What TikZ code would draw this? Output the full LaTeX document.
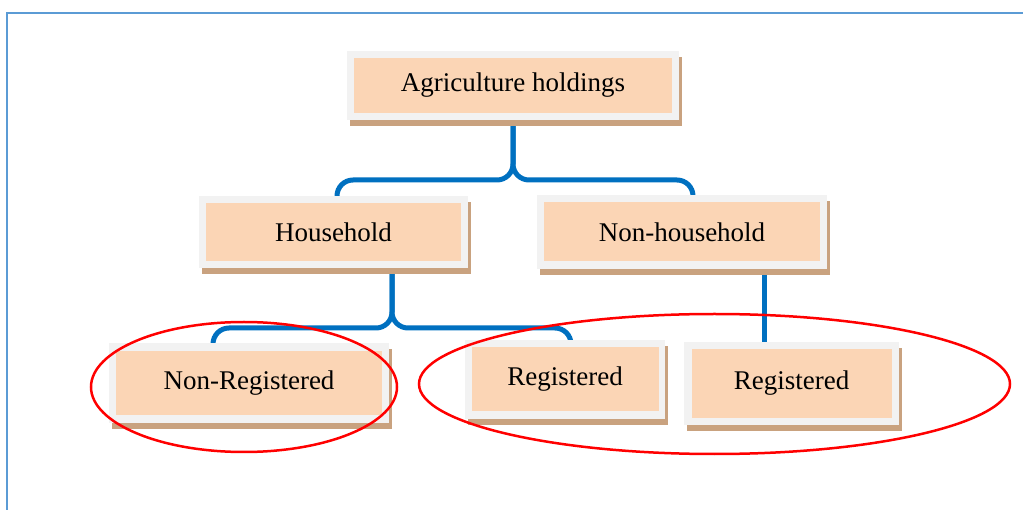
\documentclass[tikz,border=0pt]{standalone}
\usepackage{fontspec}
\setmainfont{Liberation Serif}
\usetikzlibrary{shadows,backgrounds,calc}
\definecolor{peach}{HTML}{FBD5B5}
\definecolor{paleg}{HTML}{F2F2F2}
\definecolor{shadowc}{HTML}{C9A27F}
\definecolor{connc}{HTML}{0070C0}
\definecolor{framec}{HTML}{5B9BD5}
\tikzset{
  outerbox/.style={fill=paleg, inner sep=0pt, drop shadow={shadow xshift=3pt, shadow yshift=-6pt, fill=shadowc, opacity=1}},
  innerbox/.style={fill=peach, inner sep=0pt, font=\fontsize{27}{30}\selectfont},
  conn/.style={draw=connc, line width=5pt, rounded corners=16pt},
  ring/.style={draw=red, line width=2.5pt},
}
\begin{document}
\begin{tikzpicture}[x=1pt,y=-1pt]
\useasboundingbox (0,0) rectangle (1023,510);
\draw[framec, line width=2pt] (7,512) -- (7,13) -- (1025,13);

% boxes
\node[outerbox, minimum width=332pt, minimum height=69pt] (A) at (513,85.5) {};
\node[innerbox, minimum width=318pt, minimum height=55pt] (At) at (A) {Agriculture holdings};

\node[outerbox, minimum width=269pt, minimum height=72pt] (H) at (333.5,232) {};
\node[innerbox, minimum width=255pt, minimum height=58pt] (Ht) at (H) {Household};

\node[outerbox, minimum width=290pt, minimum height=74pt] (N) at (682,232) {};
\node[innerbox, minimum width=276pt, minimum height=59pt] (Nt) at (N) {Non-household};

\node[outerbox, minimum width=280pt, minimum height=80pt] (NR) at (249,383) {};
\node[innerbox, minimum width=266pt, minimum height=64pt] (NRt) at (NR) {Non-Registered};

\node[outerbox, minimum width=200pt, minimum height=79pt] (R1) at (565,379.5) {};
\node[innerbox, minimum width=187pt, minimum height=64pt] (R1t) at (R1) {Registered};

\node[outerbox, minimum width=215pt, minimum height=83pt] (R2) at (791.5,383.5) {};
\node[innerbox, minimum width=200pt, minimum height=69pt] (R2t) at (R2) {Registered};

% connectors
\begin{scope}[on background layer]
\draw[conn] (A.center) -- (513,180) -- (337,180) -- (H.center -| 337,0);
\draw[conn] (A.center) -- (513,180) -- (693,180) -- (N.center -| 693,0);
\draw[conn] (H.center -| 392,0) -- (392,328) -- (213,328) -- (NR.center -| 213,0);
\draw[conn] (H.center -| 392,0) -- (392,328) -- (571,328) -- (R1.center -| 571,0);
\draw[conn] (N.center -| 764,0) -- (R2.center -| 764,0);
\end{scope}

% highlight rings
\draw[ring] (244,387) ellipse [x radius=153, y radius=65];
\draw[ring] (714.5,384) ellipse [x radius=295.5, y radius=70];
\end{tikzpicture}
\end{document}
